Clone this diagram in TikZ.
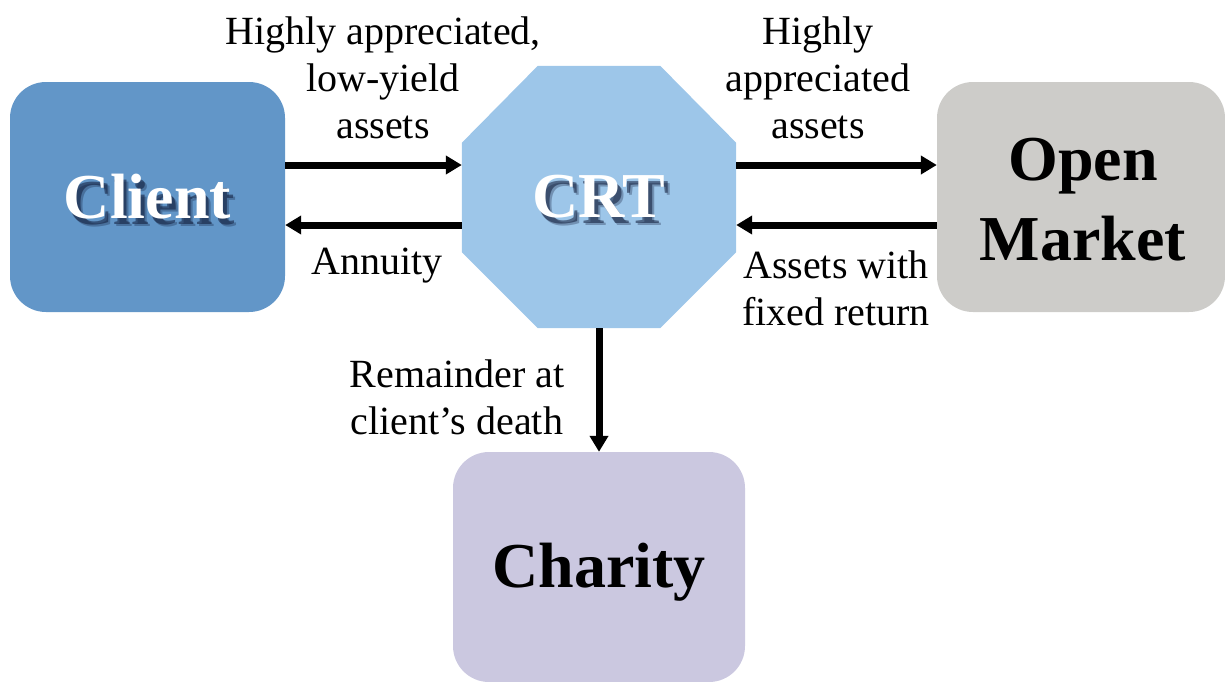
\documentclass[tikz,border=0pt]{standalone}
\usepackage{fontspec}
\setmainfont{Liberation Serif}
\usetikzlibrary{arrows.meta}
\definecolor{clientblue}{RGB}{98,150,200}
\definecolor{crtblue}{RGB}{157,198,233}
\definecolor{marketgray}{RGB}{205,204,201}
\definecolor{charitylav}{RGB}{203,200,224}
\definecolor{shadowcol}{RGB}{15,25,55}
\tikzset{
  box/.style={rectangle, rounded corners=36pt, inner sep=0pt, minimum width=#1, minimum height=230pt},
  ghost/.style={rectangle, inner sep=0pt, minimum width=274pt, minimum height=262pt},
  big/.style={font=\fontsize{64}{64}\selectfont\bfseries},
  lbl/.style={font=\fontsize{40}{47}\selectfont, align=center, inner sep=0pt},
  arr/.style={line width=7pt, -{Triangle[length=16pt,width=18pt]}},
  shadowtext/.style={big, text=shadowcol, opacity=0.55},
}
\begin{document}
\begin{tikzpicture}[x=1pt,y=-1pt]
\useasboundingbox (0,0) rectangle (1225,681);
\clip (0,0) rectangle (1225,681);
% boxes
\node[box=275pt, fill=clientblue] (client) at (147.5,197) {};
\node[ghost] (crt) at (599,197) {};
\fill[crtblue] ([xshift=76pt]crt.north west) -- ([xshift=-76pt]crt.north east)
  -- ([yshift=-77pt]crt.north east) -- ([yshift=76pt]crt.south east)
  -- ([xshift=-76pt]crt.south east) -- ([xshift=76pt]crt.south west)
  -- ([yshift=76pt]crt.south west) -- ([yshift=-77pt]crt.north west) -- cycle;
\node[box=288pt, fill=marketgray] (market) at (1081,197) {};
\node[box=292pt, fill=charitylav] (charity) at (599,567) {};
% box texts
\node[shadowtext] at (151,203) {Client};
\node[shadowtext, opacity=0.3] at (153,205) {Client};
\node[big, text=white] (clienttext) at (client.center) {Client};
\node[shadowtext] at (603,203) {CRT};
\node[shadowtext, opacity=0.3] at (605,205) {CRT};
\node[big, text=white] (crttext) at (crt.center) {CRT};
\node[big, align=center, font=\fontsize{64}{80}\selectfont\bfseries] (markettext) at (1083,200) {Open\\Market};
\node[big] (charitytext) at (599,572) {Charity};
% arrows
\draw[arr] ([yshift=32pt]client.east) -- ([yshift=32pt]crt.west);
\draw[arr] ([yshift=-28pt]crt.west) -- ([yshift=-28pt]client.east);
\draw[arr] ([yshift=32pt]crt.east) -- ([yshift=32pt]market.west);
\draw[arr] ([yshift=-28pt]market.west) -- ([yshift=-28pt]crt.east);
\draw[arr] (crt.south) -- (charity.north);
% labels
\node[lbl] (l1) at (383,78) {Highly appreciated,\\low-yield\\assets};
\node[lbl] (l2) at (818,78) {Highly\\appreciated\\assets};
\node[lbl] (l3) at (377,266) {Annuity};
\node[lbl] (l4) at (836,288) {Assets with\\fixed return};
\node[lbl] (l5) at (457,397) {Remainder at\\client’s death};
\end{tikzpicture}
\end{document}
